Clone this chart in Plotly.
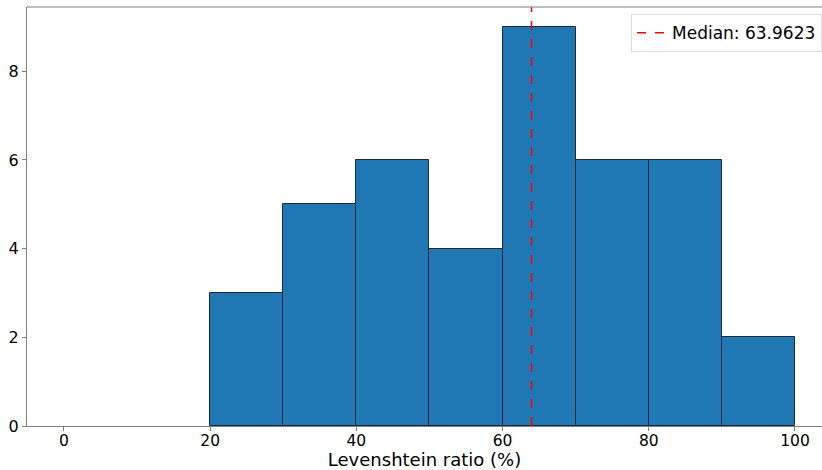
import plotly.graph_objects as go

bin_left = [20, 30, 40, 50, 60, 70, 80, 90]
counts = [3, 5, 6, 4, 9, 6, 6, 2]
bin_width = 10
median = 63.9623
x_ticks = [0, 20, 40, 60, 80, 100]
y_ticks = [0, 2, 4, 6, 8]

centers = [b + bin_width / 2 for b in bin_left]

fig = go.Figure()
fig.add_trace(go.Bar(
    x=centers, y=counts, width=[bin_width] * len(counts),
    marker=dict(color="#1f77b4", line=dict(color="#1a2a3a", width=1)),
    showlegend=False, hoverinfo="skip",
))
ymax = max(counts) * 1.05
fig.add_trace(go.Scatter(
    x=[median, median], y=[0, ymax], mode="lines",
    line=dict(color="red", dash="dash", width=1.5),
    name=f"Median: {median}",
))
# top spine
fig.add_shape(type="line", xref="paper", yref="paper", x0=0, x1=1.01, y0=1, y1=1,
              line=dict(color="#808080", width=1))

fig.update_layout(
    width=822, height=470,
    margin=dict(l=27, r=0, t=7, b=44),
    plot_bgcolor="white", paper_bgcolor="white",
    font=dict(family="DejaVu Sans", color="black", size=16),
    bargap=0,
    legend=dict(x=1.0, y=0.983, xanchor="right", yanchor="top",
                bgcolor="rgba(255,255,255,0.8)", bordercolor="#dddddd", borderwidth=1,
                font=dict(size=17)),
    xaxis=dict(range=[-5.06, 103.7], tickvals=x_ticks, showgrid=False, zeroline=False,
               showline=True, linecolor="#808080", linewidth=1, mirror=False,
               ticks="outside", ticklen=4, tickcolor="#808080",
               ticklabelstandoff=-4,
               title=dict(text="Levenshtein ratio (%)", font=dict(size=18), standoff=2),
               tickfont=dict(size=15.5)),
    yaxis=dict(range=[0, ymax], tickvals=y_ticks, showgrid=False, zeroline=False,
               showline=True, linecolor="#808080", linewidth=1, mirror=False,
               ticks="outside", ticklen=4, tickcolor="#808080",
               tickfont=dict(size=16)),
)
fig.write_html("out.html", config={"displayModeBar": False},
               post_script="document.body.style.margin='0';document.body.style.overflow='hidden';")
